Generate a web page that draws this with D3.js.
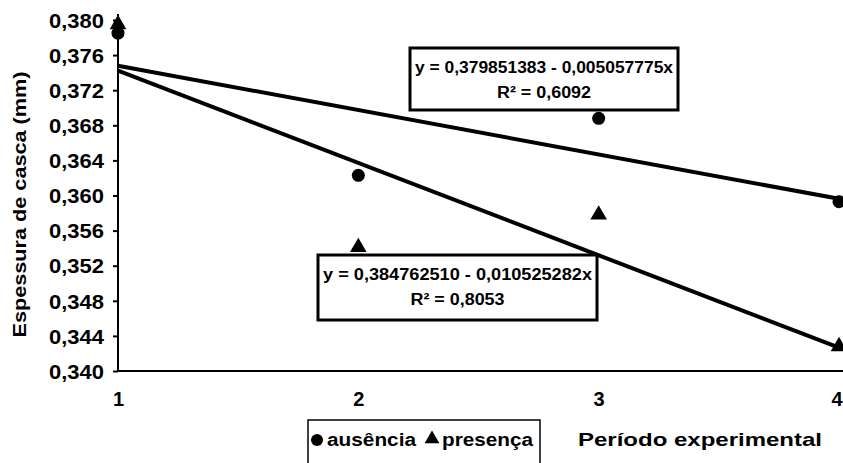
<!DOCTYPE html>
<html><head><meta charset="utf-8">
<script src="https://cdn.jsdelivr.net/npm/d3@7"></script>
<style>body{margin:0;background:#fff}svg{display:block}text{font-family:"Liberation Sans",Arial,sans-serif;font-weight:bold;fill:#000}</style>
</head><body>
<script>
const periods = [1, 2, 3, 4];
const ausencia = [0.3785, 0.3623, 0.3688, 0.3593];
const presenca = [0.3795, 0.3541, 0.3578, 0.3428];
const yTicks = [0.340, 0.344, 0.348, 0.352, 0.356, 0.360, 0.364, 0.368, 0.372, 0.376, 0.380];
const fitAus = {a: 0.379851383, b: 0.005057775, label1: "y = 0,379851383 - 0,005057775x", label2: "R² = 0,6092"};
const fitPre = {a: 0.384762510, b: 0.010525282, label1: "y = 0,384762510 - 0,010525282x", label2: "R² = 0,8053"};

const W = 843, H = 463;
const svg = d3.select("body").append("svg").attr("width", W).attr("height", H);
const x = d3.scaleLinear().domain([1, 4]).range([118, 839]);
const y = d3.scaleLinear().domain([0.340, 0.380]).range([371, 20]);
const fmt = d => d3.format(".3f")(d).replace(".", ",");

// y axis
const ya = svg.append("g").attr("transform", `translate(${x(1)},0)`)
  .call(d3.axisLeft(y).tickValues(yTicks).tickFormat(fmt).tickSize(5).tickPadding(9));
ya.select(".domain").attr("stroke-width", 2).attr("d", `M0,${y(0.380)-6}V${y(0.340)}`);
ya.selectAll(".tick line").attr("stroke-width", 2);
ya.selectAll("text").style("font-size", "20px").attr("dy", "0.36em")
  .attr("textLength", 55).attr("lengthAdjust", "spacingAndGlyphs");

// x axis
const xa = svg.append("g").attr("transform", `translate(0,${y(0.340)})`)
  .call(d3.axisBottom(x).tickValues(periods).tickFormat(d3.format("d")).tickSize(0).tickPadding(21));
xa.select(".domain").attr("stroke-width", 2).attr("d", `M${x(1)},0H${W}`);
xa.selectAll("text").style("font-size", "20px");
xa.selectAll(".tick").filter(d => d === 4).select("text").attr("text-anchor", "end").attr("x", W - x(4) - 1);

// y label
svg.append("text").attr("transform", `translate(26,${(y(0.380)+y(0.340))/2 + 9}) rotate(-90)`)
  .attr("text-anchor", "middle").style("font-size", "19px")
  .attr("textLength", 266).attr("lengthAdjust", "spacingAndGlyphs").text("Espessura de casca (mm)");

// trend lines
[fitAus, fitPre].forEach(f => {
  svg.append("line").attr("x1", x(1)).attr("y1", y(f.a - f.b * 1))
    .attr("x2", x(4)).attr("y2", y(f.a - f.b * 4))
    .attr("stroke", "#000").attr("stroke-width", 4);
});

// points
svg.selectAll(".c").data(periods).enter().append("circle")
  .attr("cx", d => x(d)).attr("cy", (d, i) => y(ausencia[i])).attr("r", 6.5).attr("fill", "#000");
const tri = d3.symbol().type(d3.symbolTriangle).size(120);
svg.selectAll(".t").data(periods).enter().append("path")
  .attr("d", tri).attr("transform", (d, i) => `translate(${x(d)},${y(presenca[i])})`).attr("fill", "#000");

// equation boxes
function eqBox(f, bx, by, bw, bh, w2) {
  svg.append("rect").attr("x", bx).attr("y", by).attr("width", bw).attr("height", bh)
    .attr("fill", "#fff").attr("stroke", "#000").attr("stroke-width", 3);
  svg.append("text").attr("x", bx + bw / 2).attr("y", by + 25).attr("text-anchor", "middle")
    .style("font-size", "16px").attr("textLength", bw - 10).attr("lengthAdjust", "spacingAndGlyphs").text(f.label1);
  svg.append("text").attr("x", bx + bw / 2).attr("y", by + 50).attr("text-anchor", "middle")
    .style("font-size", "16px").attr("textLength", w2).attr("lengthAdjust", "spacingAndGlyphs").text(f.label2);
}
eqBox(fitAus, 410, 48, 268, 62, 94);
eqBox(fitPre, 318, 255, 279, 65, 94);

// legend
svg.append("rect").attr("x", 308).attr("y", 420).attr("width", 232).attr("height", 50)
  .attr("fill", "#fff").attr("stroke", "#000").attr("stroke-width", 1.5);
svg.append("circle").attr("cx", 317).attr("cy", 440).attr("r", 6).attr("fill", "#000");
svg.append("text").attr("x", 327).attr("y", 446).style("font-size", "18px")
  .attr("textLength", 89).attr("lengthAdjust", "spacingAndGlyphs").text("ausência");
svg.append("path").attr("d", d3.symbol().type(d3.symbolTriangle).size(95)).attr("transform", "translate(432,439)").attr("fill", "#000");
svg.append("text").attr("x", 442).attr("y", 446).style("font-size", "18px")
  .attr("textLength", 91).attr("lengthAdjust", "spacingAndGlyphs").text("presença");
svg.append("text").attr("x", 578).attr("y", 446).style("font-size", "19px")
  .attr("textLength", 244).attr("lengthAdjust", "spacingAndGlyphs").text("Período experimental");
</script>
</body></html>
